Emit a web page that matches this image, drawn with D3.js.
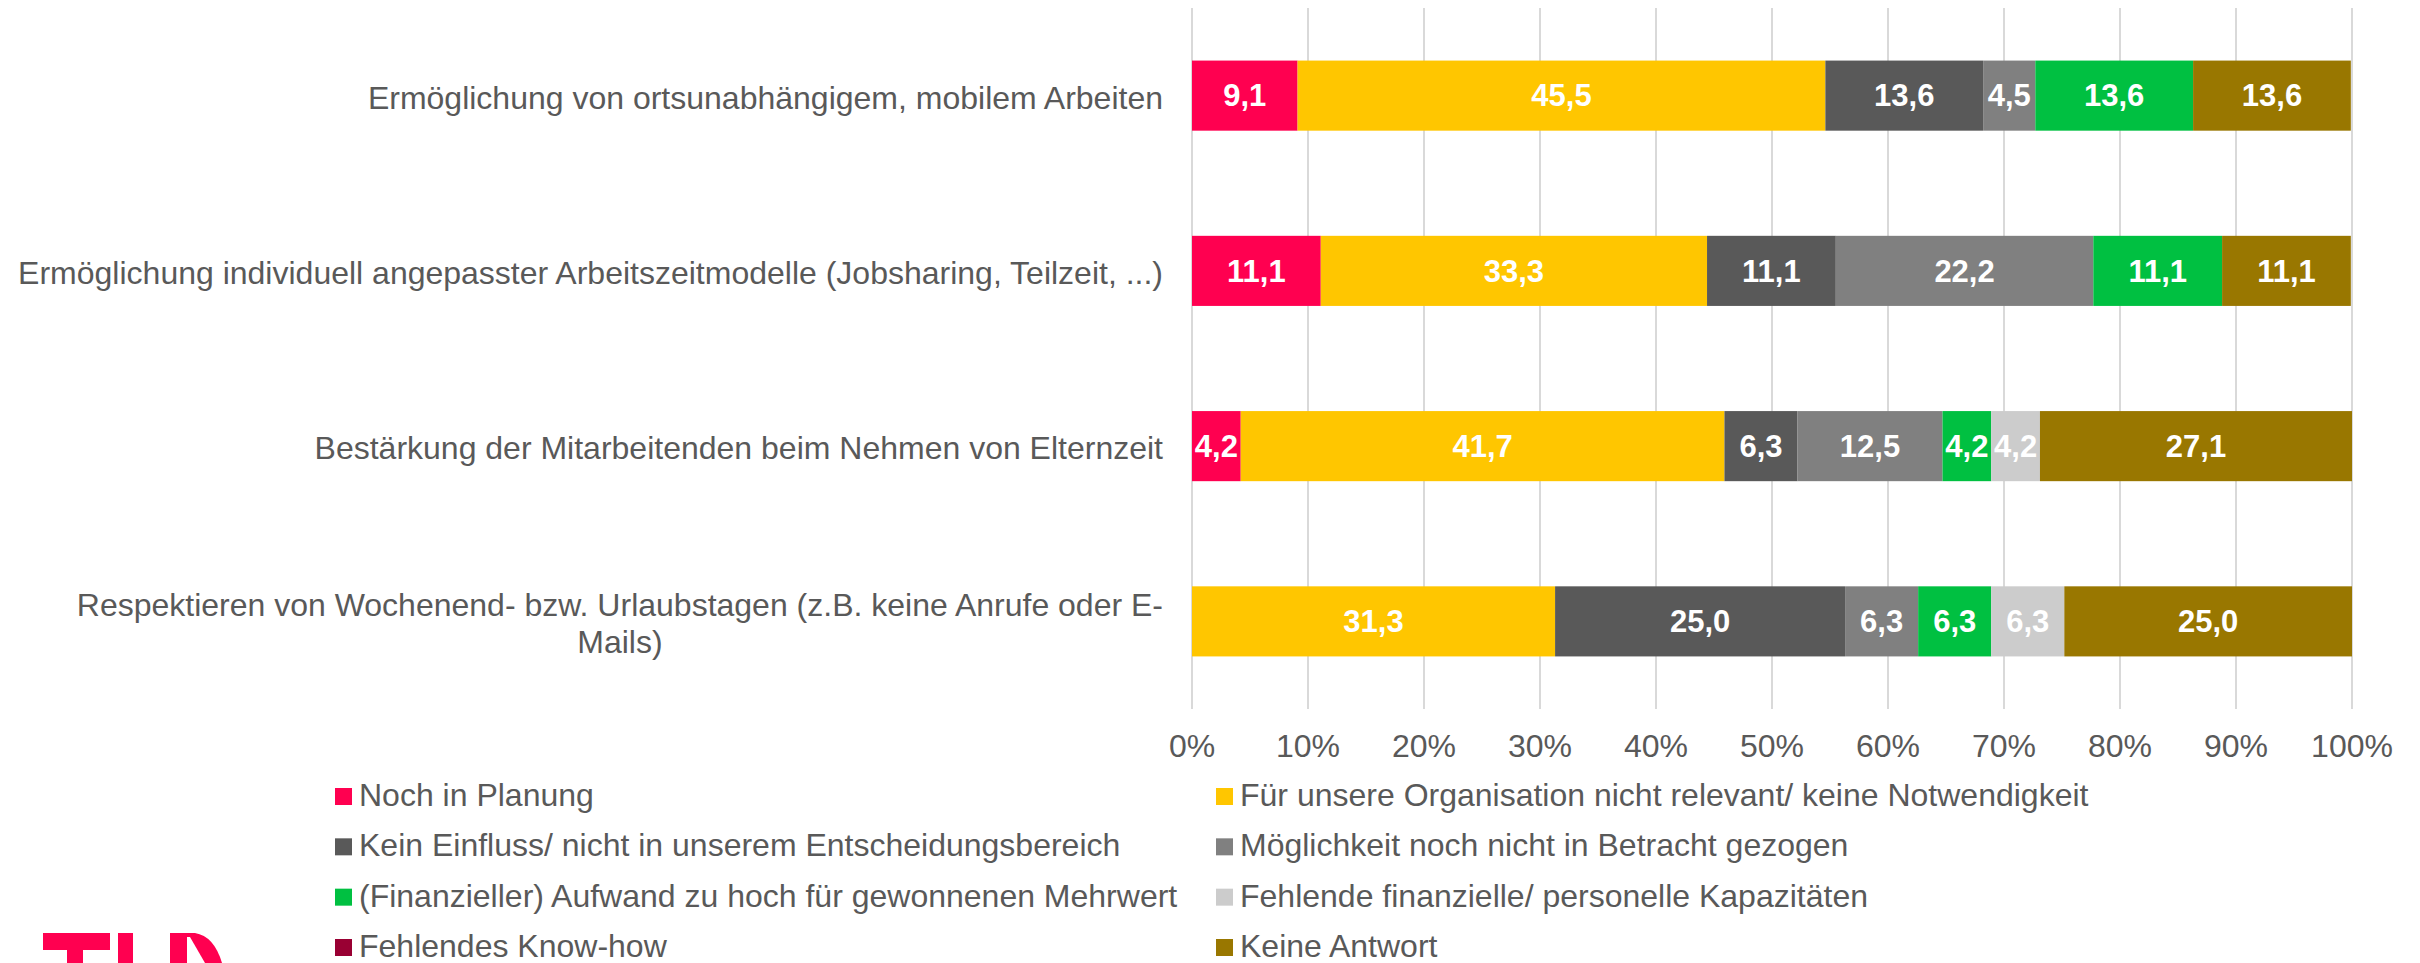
<!DOCTYPE html>
<html>
<head>
<meta charset="utf-8">
<script src="https://cdn.jsdelivr.net/npm/d3@7"></script>
<style>
  body { margin: 0; background: #fff; }
  svg { display: block; font-family: "Liberation Sans", Arial, sans-serif; }
</style>
</head>
<body>
<div id="chart"></div>
<script>
// categories (top to bottom), "\n" marks the forced line break
const categories = [
    'Ermöglichung von ortsunabhängigem, mobilem Arbeiten',
    'Ermöglichung individuell angepasster Arbeitszeitmodelle (Jobsharing, Teilzeit, ...)',
    'Bestärkung der Mitarbeitenden beim Nehmen von Elternzeit',
    'Respektieren von Wochenend- bzw. Urlaubstagen (z.B. keine Anrufe oder E-\nMails)'
];

const seriesNames = [
    'Noch in Planung',
    'Für unsere Organisation nicht relevant/ keine Notwendigkeit',
    'Kein Einfluss/ nicht in unserem Entscheidungsbereich',
    'Möglichkeit noch nicht in Betracht gezogen',
    '(Finanzieller) Aufwand zu hoch für gewonnenen Mehrwert',
    'Fehlende finanzielle/ personelle Kapazitäten',
    'Fehlendes Know-how',
    'Keine Antwort'
];

const seriesColors = ['#ff0050', '#ffc600', '#595959', '#808080', '#00c041', '#cccccc', '#990033', '#997700'];

// values per series, one entry per category
const nochInPlanung    = [9.1, 11.1, 4.2, 0];
const nichtRelevant    = [45.5, 33.3, 41.7, 31.3];
const keinEinfluss     = [13.6, 11.1, 6.3, 25.0];
const nichtBetracht    = [4.5, 22.2, 12.5, 6.3];
const aufwandZuHoch    = [13.6, 11.1, 4.2, 6.3];
const fehlendeKapaz    = [0, 0, 4.2, 6.3];
const fehlendesKnowHow = [0, 0, 0, 0];
const keineAntwort     = [13.6, 11.1, 27.1, 25.0];

const seriesValues = [nochInPlanung, nichtRelevant, keinEinfluss, nichtBetracht,
                      aufwandZuHoch, fehlendeKapaz, fehlendesKnowHow, keineAntwort];

const tickValues = [0, 10, 20, 30, 40, 50, 60, 70, 80, 90, 100];

const width = 2420;
const height = 963;
const textColor = '#595959';
const fontSize = 32;

const svg = d3.select('#chart').append('svg')
    .attr('width', width)
    .attr('height', height);

const x = d3.scaleLinear().domain([0, 100]).range([1192, 2352]).clamp(true);
const y = d3.scaleBand().domain(d3.range(categories.length))
    .range([8, 709]).paddingInner(0.6).paddingOuter(0.3);

// gridlines
svg.append('g').selectAll('line')
    .data(tickValues)
    .enter().append('line')
    .attr('x1', d => x(d)).attr('x2', d => x(d))
    .attr('y1', 8).attr('y2', 709)
    .attr('stroke', '#d9d9d9')
    .attr('stroke-width', 2);

// stack rows
const rows = categories.map((c, i) => {
    const row = { i };
    seriesNames.forEach((s, k) => row[s] = seriesValues[k][i]);
    return row;
});
const stacked = d3.stack().keys(seriesNames)(rows);

const comma = d3.formatLocale({ decimal: ',', thousands: '.', grouping: [3], currency: ['', '€'] }).format('.1f');

const layer = svg.append('g').selectAll('g')
    .data(stacked)
    .enter().append('g')
    .attr('fill', (d, k) => seriesColors[k]);

layer.selectAll('rect')
    .data(d => d.filter(p => p[1] - p[0] > 0))
    .enter().append('rect')
    .attr('x', d => x(d[0]))
    .attr('y', d => y(d.data.i))
    .attr('width', d => x(d[1]) - x(d[0]))
    .attr('height', y.bandwidth());

layer.selectAll('text')
    .data(d => d.filter(p => p[1] - p[0] > 0).map(p => Object.assign(p, { key: d.key })))
    .enter().append('text')
    .attr('x', d => (x(d[0]) + x(d[1])) / 2)
    .attr('y', d => y(d.data.i) + y.bandwidth() / 2)
    .attr('dy', '0.35em')
    .attr('text-anchor', 'middle')
    .attr('fill', '#fff')
    .attr('font-weight', 'bold')
    .attr('font-size', 31)
    .text(d => comma(d.data[d.key]));

// x axis labels
svg.append('g').selectAll('text')
    .data(tickValues)
    .enter().append('text')
    .attr('x', d => x(d))
    .attr('y', 757)
    .attr('text-anchor', 'middle')
    .attr('fill', textColor)
    .attr('font-size', fontSize)
    .text(d => d + '%');

// category labels, lines centred inside a block that is right-aligned
const labelRight = 1163;
const lineGap = 37;
categories.forEach((c, i) => {
    const lines = c.split('\n');
    const cy = y(i) + y.bandwidth() / 2 + 2;
    const g = svg.append('g');
    const texts = lines.map((line, j) => g.append('text')
        .attr('y', cy + (j - (lines.length - 1) / 2) * lineGap)
        .attr('dy', '0.35em')
        .attr('text-anchor', 'middle')
        .attr('fill', textColor)
        .attr('font-size', fontSize)
        .text(line));
    const maxW = d3.max(texts, t => t.node().getComputedTextLength());
    texts.forEach(t => t.attr('x', labelRight - maxW / 2));
});

// legend, two columns, rows placed by text baseline
const legendCols = [335, 1216];
const legendRow = d3.scaleLinear().domain([0, 3]).range([806, 957]);
const legend = svg.append('g').selectAll('g')
    .data(seriesNames)
    .enter().append('g')
    .attr('transform', (d, k) => `translate(${legendCols[k % 2]},${legendRow(Math.floor(k / 2))})`);

legend.append('rect')
    .attr('x', 0).attr('y', -18)
    .attr('width', 17).attr('height', 17)
    .attr('fill', (d, k) => seriesColors[k]);

legend.append('text')
    .attr('x', 24)
    .attr('fill', textColor)
    .attr('font-size', fontSize)
    .text(d => d);

// logo, cut off at the bottom edge
const logo = svg.append('g').attr('fill', '#ff0050');
logo.append('rect').attr('x', 43).attr('y', 933).attr('width', 67).attr('height', 17);
logo.append('rect').attr('x', 67).attr('y', 933).attr('width', 16).attr('height', 30);
logo.append('rect').attr('x', 118).attr('y', 933).attr('width', 15).attr('height', 30);
logo.append('path').attr('d', 'M170,933 L195,933 Q214,936 222,963 L170,963 Z');
svg.append('path').attr('fill', '#fff').attr('d', 'M187,937 L190,937 L205,963 L187,963 Z');
</script>
</body>
</html>
